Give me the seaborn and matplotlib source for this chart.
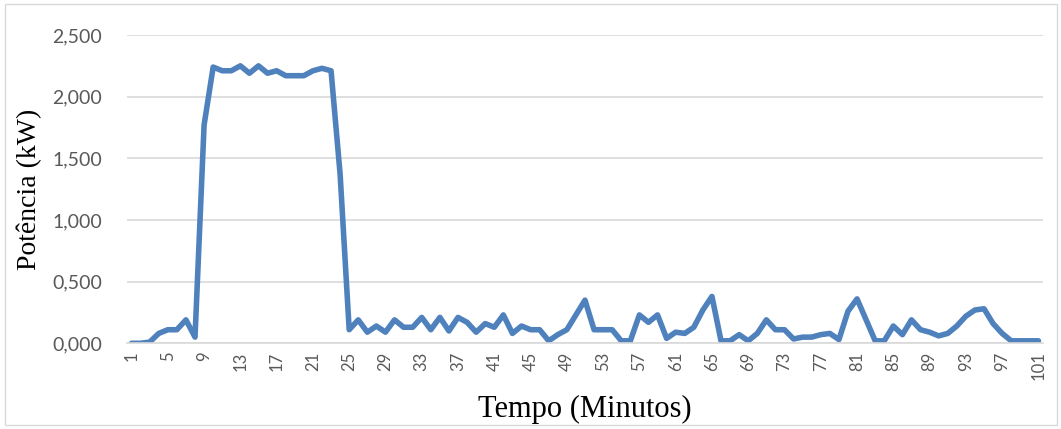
import numpy as np
import pandas as pd
import matplotlib
matplotlib.use("Agg")
import matplotlib.pyplot as plt
from matplotlib.ticker import FuncFormatter, FixedLocator
from matplotlib.patches import Rectangle
import seaborn as sns

# Power demand per minute (kW)
minutos = list(range(1, 102))
potencia = [
    0.00, 0.00, 0.01, 0.08, 0.11, 0.11, 0.19, 0.05, 1.77, 2.24,
    2.21, 2.21, 2.25, 2.19, 2.25, 2.19, 2.21, 2.17, 2.17, 2.17,
    2.21, 2.23, 2.21, 1.37, 0.11, 0.19, 0.09, 0.14, 0.09, 0.19,
    0.13, 0.13, 0.21, 0.11, 0.21, 0.10, 0.21, 0.17, 0.09, 0.16,
    0.13, 0.23, 0.08, 0.14, 0.11, 0.11, 0.02, 0.07, 0.11, 0.23,
    0.35, 0.11, 0.11, 0.11, 0.02, 0.02, 0.23, 0.17, 0.23, 0.04,
    0.09, 0.08, 0.13, 0.27, 0.38, 0.02, 0.02, 0.07, 0.02, 0.08,
    0.19, 0.11, 0.11, 0.035, 0.05, 0.05, 0.07, 0.08, 0.03, 0.26,
    0.36, 0.19, 0.02, 0.02, 0.14, 0.07, 0.19, 0.11, 0.09, 0.06,
    0.08, 0.14, 0.22, 0.27, 0.28, 0.16, 0.08, 0.02, 0.02, 0.02,
    0.02,
]
x_ticks = list(range(1, 102, 4))
y_ticks = [0.0, 0.5, 1.0, 1.5, 2.0, 2.5]

df = pd.DataFrame({"Tempo": minutos, "Potencia": potencia})

sns.set_theme(style="white")
plt.rcParams["font.family"] = ["Lato", "DejaVu Sans"]

fig = plt.figure(figsize=(10.61, 4.29), dpi=100)
ax = fig.add_axes([0.1197, 0.1998, 0.8633, 0.7186])

sns.lineplot(data=df, x="Tempo", y="Potencia", ax=ax,
             color="#4f81bd", linewidth=4.0,
             solid_joinstyle="round", solid_capstyle="round")

ax.set_xlim(0.5, 101.5)
ax.set_ylim(0, 2.5)
ax.yaxis.set_major_locator(FixedLocator(y_ticks))
ax.xaxis.set_major_locator(FixedLocator(x_ticks))
ax.yaxis.set_major_formatter(FuncFormatter(lambda v, p: f"{v:.3f}".replace(".", ",")))
ax.grid(axis="y", color="#d9d9d9", linewidth=1.2)
ax.set_axisbelow(True)
for s in ["top", "right", "left"]:
    ax.spines[s].set_visible(False)
ax.spines["bottom"].set_color("#d9d9d9")
ax.spines["bottom"].set_linewidth(1.2)

ax.tick_params(axis="y", labelsize=14, colors="#595959", length=0, pad=18)
ax.tick_params(axis="x", labelsize=12, colors="#595959", length=0, pad=6,
               labelrotation=90)

serif = ["Liberation Serif", "DejaVu Serif"]
ax.set_ylabel("Potência (kW)", family=serif, fontsize=20, color="black")
ax.set_xlabel("Tempo (Minutos)", family=serif, fontsize=22, color="black")
ax.yaxis.set_label_coords(-0.107, 0.5)
ax.yaxis.label.set_va("center")
ax.xaxis.set_label_coords(0.5, -0.216)
ax.xaxis.label.set_va("center")

fig.patches.append(Rectangle((5 / 1061, 4 / 429), 1052 / 1061, 421 / 429,
                             transform=fig.transFigure, fill=False,
                             edgecolor="#d9d9d9", linewidth=1.0))

fig.savefig("out.png", dpi=100, facecolor="white")
